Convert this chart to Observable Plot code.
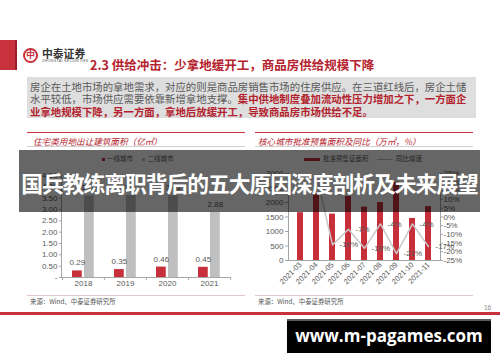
<!DOCTYPE html>
<html><head><meta charset="utf-8">
<script src="https://cdn.jsdelivr.net/npm/d3@7"></script>
<script src="https://cdn.jsdelivr.net/npm/@observablehq/plot@0.6"></script>
<style>
html,body{margin:0;padding:0;}
body{width:500px;height:362px;overflow:hidden;background:#fff;position:relative;font-family:"Noto Sans CJK SC","Noto Sans",sans-serif;}
.a{position:absolute;white-space:nowrap;}
.g{color:#595959;}
.r{color:#b3232d;font-weight:bold;}
</style></head><body>
<script>
// ---------- data ----------
const pageTitle = "2.3 供给冲击：少拿地缓开工，商品房供给规模下降";
const bodyLines = [
  [["房企在土地市场的拿地需求，对应的则是商品房销售市场的住房供应。在三道红线后，房企土储", "g"]],
  [["水平较低，市场供应需要依靠新增拿地支撑。", "g"], ["集中供地制度叠加流动性压力增加之下，一方面企", "r"]],
  [["业拿地规模下降，另一方面，拿地后放缓开工，导致商品房市场供给不足。", "r"]]
];
const chart1Title = "住宅类用地出让建筑面积（亿㎡）";
const chart2Title = "核心城市批准预售面积及同比（万㎡，%）";
const seriesNames1 = ["一线城市", "二线城市"];
const seriesNames2 = ["批准预售证面积", "同比增速"];
const sourceText = "来源：Wind、中泰证券研究所";
const bannerText = "国兵教练离职背后的五大原因深度剖析及未来展望";
const watermark = "www.m-pagames.com";

const years = ["2018", "2019", "2020", "2021"];
const tier1 = [0.29, 0.35, 0.46, 0.45];
const tier2 = [3.60, 3.62, 3.61, 2.88];
const yTicks1 = [0, 0.5, 1, 1.5, 2, 2.5, 3, 3.5, 4, 4.5];

const months = ["2021-03", "2021-04", "2021-05", "2021-06", "2021-07", "2021-08", "2021-09", "2021-10", "2021-11"];
const presale = [1650, 2300, 1600, 2210, 1840, 2000, 2700, 1450, 1860];
const yoy = [null, 24, -16, -7, -18, -4, -21, -4, -17];
const yTicks2 = [0, 500, 1000, 1500, 2000, 2500, 3000];
const pctTicks = [-25, -20, -15, -10, -5, 0, 5, 10, 15, 20, 25];

const RED = "#c7303b", GRAY = "#bfbfbf", AX = "#a6a6a6", TX = "#595959";

// ---------- static slide elements ----------
function el(html, style) {
  const d = document.createElement("div");
  d.className = "a";
  d.innerHTML = html;
  Object.assign(d.style, style);
  document.body.appendChild(d);
  return d;
}
el("", {left:"0px", top:"40px", width:"15px", height:"30px", background:"#c8323c"});
el("", {left:"15px", top:"40px", width:"2px", height:"30px", background:"#9a1f2b"});
// logo
el("<span style='display:block;text-align:center;line-height:10px;font-size:9px;font-weight:bold;color:#c8323c'>中</span>",
   {left:"23px", top:"48px", width:"11px", height:"11px", border:"2px solid #c8323c", borderRadius:"50%", lineHeight:"11px"});
el("中泰证券", {left:"42px", top:"47px", fontSize:"10.8px", lineHeight:"13px", fontWeight:"bold", color:"#333"});
el("ZHONGTAI SECURITIES", {left:"42px", top:"59px", fontSize:"3.6px", lineHeight:"4px", color:"#555", letterSpacing:"0.3px", fontFamily:"'Liberation Sans',sans-serif"});
el(pageTitle, {left:"90px", top:"57px", fontSize:"12.5px", lineHeight:"16px", color:"#b5222d", fontWeight:"bold"});
el("", {left:"27px", top:"77px", width:"449px", height:"41px", background:"#dedede"});
bodyLines.forEach((ln, i) => {
  el(ln.map(([t, c]) => `<span class="${c}">${t}</span>`).join(""),
     {left:"30px", top:(80.5 + i * 12.5) + "px", fontSize:"10.4px", lineHeight:"12.5px"});
});
// chart headers
[[27, chart1Title, 33], [255, chart2Title, 258]].forEach(([x, t, tx]) => {
  el("", {left:x + "px", top:"132px", width:"218px", height:"1px", background:"#c8323c"});
  el(t, {left:tx + "px", top:"135px", fontSize:"8.6px", lineHeight:"12px", color:"#b5222d", fontStyle:"italic"});
  el("", {left:x + "px", top:"146px", width:"218px", height:"1px", background:"#d0d0d0"});
  el("", {left:x + "px", top:"295px", width:"218px", height:"1px", background:"#e3c6c6"});
  el(sourceText, {left:(x + 3) + "px", top:"298px", fontSize:"6.4px", lineHeight:"8px", color:"#555"});
});
// legends
el(`<span style="display:inline-block;width:3px;height:3px;background:${RED};margin-right:2px;vertical-align:middle"></span>${seriesNames1[0]}
    <span style="display:inline-block;width:3px;height:3px;background:${GRAY};margin:0 2px 0 8px;vertical-align:middle"></span>${seriesNames1[1]}`,
   {left:"102px", top:"154px", fontSize:"6.5px", lineHeight:"8px", color:TX});
el(`<span style="display:inline-block;width:16px;height:3px;background:${RED};margin-right:3px;vertical-align:middle"></span>${seriesNames2[0]}
    <span style="display:inline-block;width:16px;height:1px;background:${GRAY};margin:0 3px 0 7px;vertical-align:middle"></span>${seriesNames2[1]}`,
   {left:"304px", top:"154px", fontSize:"6.5px", lineHeight:"8px", color:TX});
// footer
el("", {left:"0px", top:"312px", width:"500px", height:"2.5px", background:"#c8323c"});
el("16", {left:"484px", top:"304px", fontSize:"6.5px", lineHeight:"8px", color:"#888", fontFamily:"'Liberation Sans',sans-serif"});

// ---------- chart 1 ----------
const rows1 = years.map((y, i) => ({year: y, t1: tier1[i], t2: tier2[i]}));
const baseStyle = {background:"transparent", fontFamily:"'Liberation Sans',Arial,sans-serif", fontSize:"8px", color:TX, overflow:"visible"};
const bw1 = (250 - 61 - 20) / years.length;
const c1 = Plot.plot({
  width: 250, height: 130, marginLeft: 61, marginRight: 20, marginTop: 10, marginBottom: 18,
  style: baseStyle,
  x: {domain: years, padding: 0, label: null},
  y: {domain: [0, 4.5], label: null},
  marks: [
    Plot.axisY({ticks: yTicks1, tickFormat: d => d === 0 ? "-" : d.toFixed(2), tickSize: 2, tickPadding: 2, stroke: AX, fill: TX, label: null}),
    Plot.axisX({tickSize: 0, tickPadding: 3, fill: TX, label: null}),
    Plot.frame({anchor: "left", stroke: AX}),
    Plot.frame({anchor: "bottom", stroke: AX}),
    Plot.ruleX(years, {x: d => d, y1: 0, y2: -0.13, dx: -bw1 / 2, stroke: AX}),
    Plot.ruleX(years.slice(-1), {x: d => d, y1: 0, y2: -0.13, dx: bw1 / 2, stroke: AX}),
    Plot.barY(rows1, {x: "year", y: "t1", fill: RED, insetLeft: 10, insetRight: bw1 - 20}),
    Plot.barY(rows1, {x: "year", y: "t2", fill: GRAY, insetLeft: 22, insetRight: bw1 - 32}),
    Plot.text(rows1, {x: "year", y: "t1", text: d => d.t1.toFixed(2), dx: 15 - bw1 / 2, dy: -8, fill: TX}),
    Plot.text(rows1, {x: "year", y: "t2", text: d => d.t2.toFixed(2), dx: 27 - bw1 / 2, dy: -8, fill: TX})
  ]
});
Object.assign(c1.style, {position: "absolute", left: "0px", top: "165px"});
document.body.appendChild(c1);

// ---------- chart 2 ----------
const toLeft = p => (p + 25) * 60;
const rows2 = months.map((m, i) => ({month: m, v: presale[i], p: yoy[i]}));
const lineRows = rows2.filter(d => d.p != null);
const labelRows = lineRows.slice(1);
const c2 = Plot.plot({
  width: 250, height: 135, marginLeft: 38, marginRight: 60, marginTop: 8, marginBottom: 40,
  style: baseStyle,
  x: {domain: months, padding: 0, label: null},
  y: {domain: [0, 3000], label: null},
  marks: [
    Plot.axisY({ticks: yTicks2, tickFormat: d => String(d), tickSize: 3, tickPadding: 2, stroke: AX, fill: TX, label: null}),
    Plot.axisY({anchor: "right", ticks: pctTicks.map(toLeft), tickFormat: v => Math.round(v / 60 - 25) + "%", tickSize: 2, tickPadding: 1, stroke: AX, fill: TX, label: null}),
    Plot.axisX({tickRotate: -45, tickSize: 0, tickPadding: 3, fontSize: 7.5, fill: TX, label: null}),
    Plot.frame({anchor: "left", stroke: AX}),
    Plot.frame({anchor: "right", stroke: AX}),
    Plot.frame({anchor: "bottom", stroke: AX}),
    Plot.barY(rows2, {x: "month", y: "v", fill: RED, insetLeft: 5, insetRight: 5}),
    Plot.lineY(lineRows, {x: "month", y: d => toLeft(d.p), stroke: "#c9c9c9", strokeWidth: 1.5}),
    Plot.text(labelRows, {x: "month", y: d => toLeft(d.p), text: d => d.p + "%", dx: 7, textAnchor: "start", fill: TX})
  ]
});
Object.assign(c2.style, {position: "absolute", left: "250px", top: "165px"});
document.body.appendChild(c2);

// ---------- overlays ----------
el("", {left:"19px", top:"150px", width:"461px", height:"62px", background:"rgba(0,0,0,0.6)", zIndex:"10"});
el(bannerText, {left:"19px", top:"172px", width:"461px", textAlign:"center", fontSize:"21.8px", lineHeight:"22px", letterSpacing:"-1.05px", fontWeight:"bold", color:"#fff", zIndex:"11"});
el("", {left:"287px", top:"319px", width:"204px", height:"34px", background:"#000", borderTop:"2px solid #5a5a5a", boxSizing:"border-box", zIndex:"10"});
el(watermark, {left:"287px", top:"325px", width:"204px", textAlign:"center", fontSize:"17px", lineHeight:"22px", fontWeight:"bold", color:"#fff", fontFamily:"'Open Sans','DejaVu Sans',sans-serif", zIndex:"11"});
</script>
</body></html>
